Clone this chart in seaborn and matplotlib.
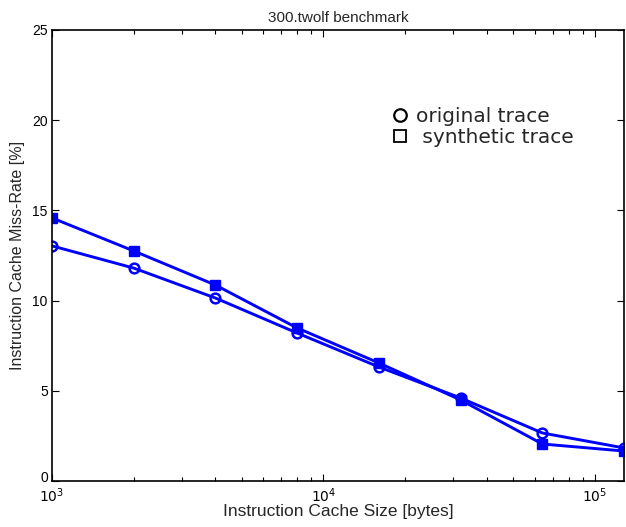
import matplotlib
matplotlib.use("Agg")
import matplotlib.pyplot as plt
import matplotlib.transforms as mtransforms
import seaborn as sns
import pandas as pd
from matplotlib.lines import Line2D

cache_sizes = [1000, 2000, 4000, 8000, 16000, 32000, 64000, 128000]
original = [13.03, 11.8, 10.14, 8.2, 6.32, 4.6, 2.66, 1.83]
synthetic = [14.58, 12.75, 10.86, 8.48, 6.54, 4.49, 2.05, 1.66]
y_ticks = [0, 5, 10, 15, 20, 25]

sns.set_style("white")
plt.rcParams['font.family'] = ['Liberation Sans', 'DejaVu Sans']

df = pd.DataFrame({
    "size": cache_sizes * 2,
    "rate": original + synthetic,
    "trace": ["original trace"] * len(cache_sizes) + ["synthetic trace"] * len(cache_sizes),
})

fig = plt.figure(figsize=(6.26, 5.27), dpi=100)
ax = fig.add_axes([0.083, 0.0873, 0.914, 0.856])

blue = "#0000ff"
sns.lineplot(data=df[df.trace == "original trace"], x="size", y="rate", ax=ax,
             color=blue, linewidth=2.1, marker="o", markersize=7,
             markerfacecolor="none", markeredgecolor=blue, markeredgewidth=1.8,
             legend=False)
sns.lineplot(data=df[df.trace == "synthetic trace"], x="size", y="rate", ax=ax,
             color=blue, linewidth=2.1, marker="s", markersize=7,
             markerfacecolor=blue, markeredgecolor=blue, markeredgewidth=1.0,
             legend=False)

ax.set_xscale("log")
ax.set_xlim(1000, 128000)
ax.set_ylim(0, 25)
ax.set_yticks(y_ticks)
ax.set_xticks([1e3, 1e4, 1e5])
ax.set_xticklabels([r"$10^3$", r"$10^4$", r"$10^5$"])

for s in ax.spines.values():
    s.set_visible(True)
    s.set_color("black")
    s.set_linewidth(1.2)

ax.tick_params(which="both", direction="in", top=True, right=True, bottom=True, left=True,
               colors="black", labelsize=10)
ax.tick_params(which="major", length=5, width=0.8)
ax.tick_params(which="minor", length=3, width=0.8)
ax.tick_params(axis="x", pad=4)
ax.tick_params(axis="y", pad=3)

# lift the "0" label slightly so it does not collide with 10^3
zero_lbl = ax.get_yticklabels()[0]
zero_lbl.set_transform(zero_lbl.get_transform() +
                       mtransforms.ScaledTranslation(0, 3 / 72, fig.dpi_scale_trans))

ax.set_title("300.twolf benchmark", fontsize=11, pad=6)
ax.set_xlabel("Instruction Cache Size [bytes]", fontsize=12.5, labelpad=-1)
ax.set_ylabel("Instruction Cache Miss-Rate [%]", fontsize=11.5, labelpad=5)

handles = [
    Line2D([], [], linestyle="none", marker="o", markersize=9, markerfacecolor="none",
           markeredgecolor="black", markeredgewidth=1.6),
    Line2D([], [], linestyle="none", marker="s", markersize=9, markerfacecolor="none",
           markeredgecolor="black", markeredgewidth=1.3),
]
leg = ax.legend(handles, ["original trace", " synthetic trace"], loc="upper left",
                bbox_to_anchor=(0.564, 0.87), frameon=False, handlelength=0.7,
                handletextpad=0.45, labelspacing=0.1,
                prop={"family": "DejaVu Sans", "size": 14.5})

fig.savefig("out.png", dpi=100)
